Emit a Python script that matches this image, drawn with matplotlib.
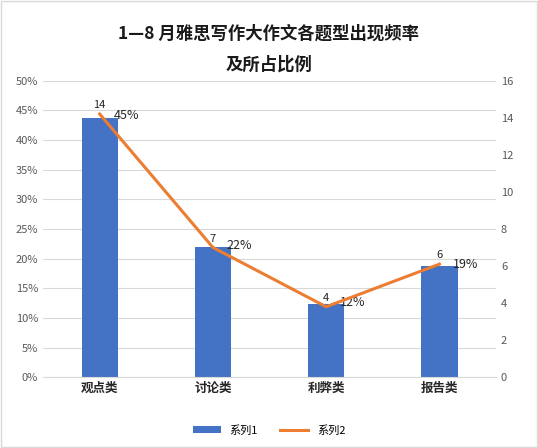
import matplotlib
matplotlib.use("Agg")
import matplotlib.pyplot as plt
from matplotlib.patches import Rectangle

plt.rcParams['font.family'] = ['Noto Sans CJK SC', 'DejaVu Sans']

categories = ["观点类", "讨论类", "利弊类", "报告类"]
pct = [0.4375, 0.219, 0.123, 0.1875]
pct_labels = ["45%", "22%", "12%", "19%"]
counts = [14, 7, 4, 6]
line_vals = [14.2, 7.0, 3.8, 6.1]

fig = plt.figure(figsize=(5.38, 4.48), dpi=100)
fig.patches.append(Rectangle((0.002, 0.002), 0.996, 0.996, transform=fig.transFigure,
                             fill=False, edgecolor="#d9d9d9", lw=1))
ax = fig.add_axes([0.08, 0.158, 0.842, 0.662])
x = range(len(categories))
ax.bar(x, pct, width=0.32, color="#4472C4", label="系列1", zorder=2)
ax.set_ylim(0, 0.5)
ax.set_yticks([i/20 for i in range(11)])
ax.set_yticklabels([f"{i*5}%" for i in range(11)], fontsize=8, color="#595959")
ax.set_xlim(-0.5, 3.5)
ax.set_xticks(list(x))
ax.set_xticklabels(categories, fontsize=9, fontweight="bold", color="#262626")
ax.grid(axis="y", color="#d9d9d9", lw=0.8, zorder=0)
for s in ["top", "right", "left"]:
    ax.spines[s].set_visible(False)
ax.spines["bottom"].set_color("#d9d9d9")
ax.tick_params(length=0)
for i, (v, l) in enumerate(zip(pct, pct_labels)):
    ax.text(i + 0.12, v + 0.003, l, fontsize=9, ha="left", va="center", color="#262626")

ax2 = ax.twinx()
ax2.plot(list(x), line_vals, color="#ED7D31", lw=2.2, label="系列2", zorder=3)
ax2.set_ylim(0, 16)
ax2.set_yticks(range(0, 17, 2))
ax2.set_yticklabels([str(i) for i in range(0, 17, 2)], fontsize=8, color="#595959")
for s in ["top", "right", "left", "bottom"]:
    ax2.spines[s].set_visible(False)
ax2.tick_params(length=0)
for i, (v, c) in enumerate(zip(line_vals, counts)):
    ax2.text(i, v + 0.2, str(c), fontsize=8, ha="center", va="bottom", color="#262626")

fig.text(0.5, 0.925, "1—8 月雅思写作大作文各题型出现频率", ha="center", va="center",
         fontsize=12.5, fontweight="bold", color="#1a1a1a")
fig.text(0.5, 0.855, "及所占比例", ha="center", va="center",
         fontsize=12.5, fontweight="bold", color="#1a1a1a")
h1, l1 = ax.get_legend_handles_labels()
h2, l2 = ax2.get_legend_handles_labels()
fig.legend(h1 + h2, l1 + l2, loc="center", bbox_to_anchor=(0.5, 0.04), ncol=2,
           frameon=False, fontsize=8, handlelength=2.5, handleheight=0.5)
fig.savefig("out.png", dpi=100)
